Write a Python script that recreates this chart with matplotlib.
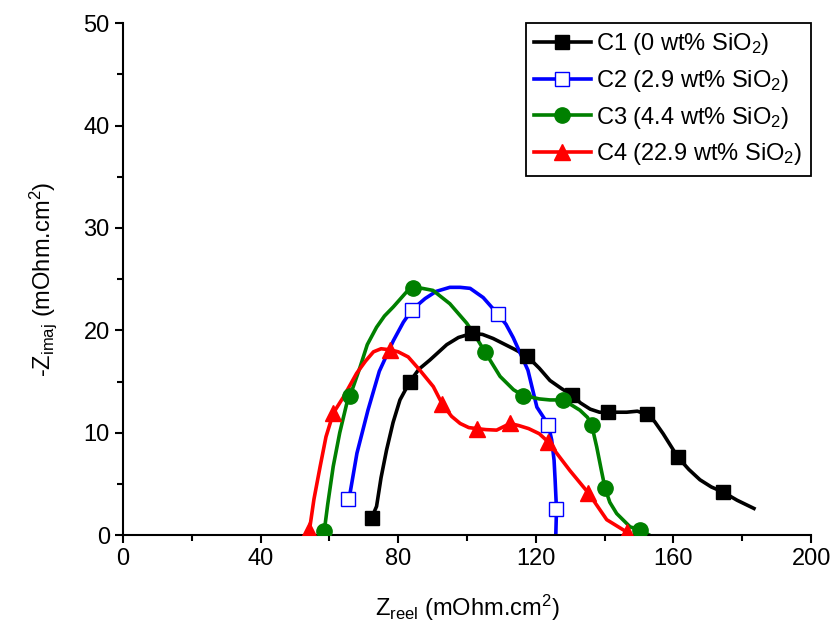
import matplotlib.pyplot as plt
from matplotlib.lines import Line2D

plt.rcParams['font.family'] = ['Liberation Sans', 'DejaVu Sans']
plt.rcParams['mathtext.fontset'] = 'custom'
plt.rcParams['mathtext.rm'] = 'Liberation Sans'
plt.rcParams['mathtext.it'] = 'Liberation Sans'

# measured points (markers)
c1_x = [72.3, 83.4, 101.4, 117.4, 130.4, 140.9, 152.2, 161.3, 174.4]
c1_y = [1.7, 15.0, 19.7, 17.5, 13.7, 12.0, 11.8, 7.6, 4.2]
c2_x = [65.5, 84.0, 108.9, 123.6, 126.0]
c2_y = [3.5, 22.0, 21.6, 10.8, 2.5]
c3_x = [58.5, 66.0, 84.4, 105.2, 116.4, 128.0, 136.2, 140.1, 150.3]
c3_y = [0.4, 13.6, 24.1, 17.9, 13.6, 13.2, 10.8, 4.6, 0.5]
c4_x = [54.2, 61.1, 77.6, 92.8, 102.8, 112.5, 123.6, 135.3, 146.4]
c4_y = [0.5, 11.9, 18.1, 12.8, 10.4, 10.9, 9.1, 4.1, 0.3]

# smoothed curves
c1_cx = [72.3, 73.7, 75.0, 76.6, 78.5, 80.5, 83.4, 86.0, 89.2, 94.1, 97.5, 101.4, 104.5, 107.6,
         113.5, 117.4, 121.0, 124.1, 127.5, 130.4, 133.0, 135.8, 138.5, 140.9, 143.5, 146.4,
         149.5, 152.2, 154.5, 157.0, 161.3, 164.5, 167.7, 171.0, 174.4, 178.5, 183.4]
c1_cy = [1.7, 2.8, 5.6, 8.3, 11.0, 13.2, 15.0, 16.2, 17.1, 18.6, 19.3, 19.7, 19.6, 19.2,
         18.2, 17.5, 16.3, 15.1, 14.3, 13.7, 12.9, 12.3, 12.0, 12.0, 12.0, 12.0,
         12.1, 11.8, 11.1, 9.9, 7.6, 6.4, 5.4, 4.7, 4.2, 3.4, 2.6]
c2_cx = [65.5, 66.0, 68.0, 71.2, 74.5, 78.6, 81.5, 84.0, 87.8, 91.0, 95.0, 98.0, 100.9,
         104.7, 108.9, 111.3, 113.4, 117.7, 120.3, 123.6, 124.6, 125.3, 125.6, 126.0, 125.8]
c2_cy = [3.5, 4.1, 8.0, 12.2, 16.0, 19.0, 20.8, 22.0, 23.1, 23.8, 24.2, 24.2, 24.1,
         23.2, 21.6, 20.6, 19.3, 16.1, 12.5, 10.8, 9.3, 7.3, 5.4, 2.5, 0.0]
c3_cx = [58.5, 59.5, 61.1, 63.0, 65.0, 66.0, 68.9, 71.0, 73.7, 76.0, 78.6, 82.8, 84.4,
         87.0, 90.1, 95.0, 99.9, 102.5, 105.2, 109.6, 113.5, 116.4, 118.3, 121.0, 124.1,
         128.0, 132.8, 135.0, 136.2, 137.7, 139.0, 140.1, 141.5, 143.5, 147.4, 150.3, 153.0]
c3_cy = [0.4, 3.0, 6.7, 10.0, 12.8, 13.6, 16.4, 18.6, 20.3, 21.4, 22.3, 23.9, 24.1,
         24.1, 23.9, 22.6, 20.7, 19.4, 17.9, 15.5, 14.2, 13.6, 13.5, 13.3, 13.2,
         13.2, 12.2, 11.5, 10.8, 8.6, 6.4, 4.6, 3.2, 2.1, 0.8, 0.5, 0.0]
c4_cx = [54.2, 55.5, 57.3, 59.0, 61.1, 64.1, 67.9, 70.5, 72.8, 75.0, 77.6, 80.0, 82.9,
         86.3, 90.2, 92.8, 95.5, 98.0, 100.5, 102.8, 105.5, 108.6, 112.5, 115.0, 117.9,
         121.0, 123.6, 126.5, 129.9, 135.3, 140.6, 146.4]
c4_cy = [0.5, 3.5, 6.7, 9.6, 11.9, 13.5, 15.8, 17.0, 17.9, 18.2, 18.1, 17.9, 17.4,
         16.1, 14.5, 12.8, 11.6, 10.9, 10.5, 10.4, 10.3, 10.25, 10.9, 10.7, 10.4,
         9.9, 9.1, 7.8, 6.3, 4.1, 1.5, 0.3]

labels = [r'C1 (0 wt% SiO$_2$)', r'C2 (2.9 wt% SiO$_2$)',
          r'C3 (4.4 wt% SiO$_2$)', r'C4 (22.9 wt% SiO$_2$)']

fig = plt.figure(figsize=(8.34, 6.28), dpi=100)
ax = fig.add_axes([0.1475, 0.148, 0.825, 0.815])

lw = 2.6
ax.plot(c1_cx, c1_cy, '-', color='black', lw=lw)
ax.plot(c2_cx, c2_cy, '-', color='blue', lw=lw)
ax.plot(c3_cx, c3_cy, '-', color='green', lw=lw)
ax.plot(c4_cx, c4_cy, '-', color='red', lw=lw)

ax.plot(c1_x, c1_y, 's', color='black', ms=10, zorder=3)
ax.plot(c2_x, c2_y, 's', mfc='white', mec='blue', mew=1.0, ms=10, zorder=3)
ax.plot(c3_x, c3_y, 'o', color='green', ms=11, zorder=3)
ax.plot(c4_x, c4_y, '^', color='red', ms=11, zorder=3)

handles = [
    Line2D([], [], color='black', lw=lw, marker='s', ms=10),
    Line2D([], [], color='blue', lw=lw, marker='s', ms=10, mfc='white', mec='blue', mew=1.0),
    Line2D([], [], color='green', lw=lw, marker='o', ms=11),
    Line2D([], [], color='red', lw=lw, marker='^', ms=11),
]
leg = ax.legend(handles, labels, loc='upper right', fontsize=17, handlelength=2.4,
                handletextpad=0.25, borderaxespad=0.0, fancybox=False,
                framealpha=1, edgecolor='black', labelspacing=0.45,
                borderpad=0.35, bbox_to_anchor=(1.0, 1.0))
leg.get_frame().set_linewidth(1.3)

ax.set_xlim(0, 200)
ax.set_ylim(0, 50)
ax.set_xticks([0, 40, 80, 120, 160, 200])
ax.set_xticks(range(20, 200, 40), minor=True)
ax.set_yticks(range(0, 51, 10))
ax.set_yticks(range(5, 50, 10), minor=True)
ax.tick_params(axis='both', which='major', labelsize=17, width=1.5, length=6, direction='out')
ax.tick_params(axis='both', which='minor', width=1.5, length=4, direction='out')

ax.spines['top'].set_visible(False)
ax.spines['right'].set_visible(False)
ax.spines['left'].set_linewidth(1.5)
ax.spines['bottom'].set_linewidth(1.5)

ax.set_xlabel(r'Z$_{\mathrm{reel}}$ (mOhm.cm$^2$)', fontsize=17, labelpad=16)
ax.set_ylabel(r'-Z$_{\mathrm{imaj}}$ (mOhm.cm$^2$)', fontsize=17, labelpad=18)

fig.savefig('out.png', dpi=100)
